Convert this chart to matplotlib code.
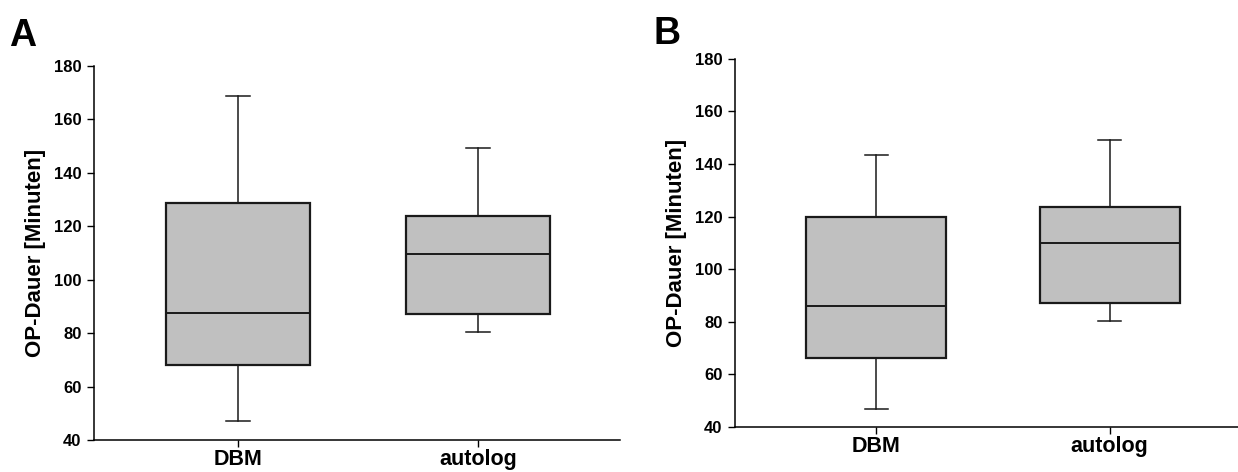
import matplotlib
matplotlib.use("Agg")
import matplotlib.pyplot as plt

plt.rcParams['font.family'] = ['Liberation Sans', 'DejaVu Sans']
plt.rcParams['font.weight'] = 'bold'

# Gruppen
groups = ["DBM", "autolog"]

# Panel A: Whisker unten, Q1, Median, Q3, Whisker oben
a_whislo = [47, 80.3]
a_q1 = [68.1, 87.1]
a_med = [87.4, 109.8]
a_q3 = [128.7, 123.7]
a_whishi = [168.8, 149.3]

# Panel B
b_whislo = [46.8, 80.3]
b_q1 = [66.1, 87.3]
b_med = [86.2, 109.9]
b_q3 = [119.9, 123.6]
b_whishi = [143.6, 149.3]

y_ticks = [40, 60, 80, 100, 120, 140, 160, 180]


def make_stats(whislo, q1, med, q3, whishi):
    stats = []
    for i in range(len(groups)):
        stats.append({
            "label": groups[i],
            "whislo": whislo[i],
            "q1": q1[i],
            "med": med[i],
            "q3": q3[i],
            "whishi": whishi[i],
            "fliers": [],
        })
    return stats


def draw_panel(ax, stats, xlim, letter, letter_xy):
    ax.bxp(stats, positions=[1, 2], widths=0.6, capwidths=0.1,
           showfliers=False, patch_artist=True,
           boxprops=dict(facecolor="#c0c0c0", edgecolor="#1a1a1a", linewidth=1.6),
           medianprops=dict(color="#1a1a1a", linewidth=1.4),
           whiskerprops=dict(color="#1a1a1a", linewidth=1.1),
           capprops=dict(color="#1a1a1a", linewidth=1.1))
    ax.set_xlim(*xlim)
    ax.set_ylim(40, 180)
    ax.set_yticks(y_ticks)
    ax.set_xticks([1, 2])
    ax.set_xticklabels(groups, fontsize=15.5, fontweight='bold')
    ax.tick_params(axis='y', labelsize=12, length=5, width=1, pad=4)
    ax.tick_params(axis='x', length=5, width=1, pad=1.5)
    for lbl in ax.get_yticklabels():
        lbl.set_fontweight('bold')
    ax.spines['top'].set_visible(False)
    ax.spines['right'].set_visible(False)
    ax.spines['left'].set_linewidth(1.1)
    ax.spines['bottom'].set_linewidth(1.1)
    ax.set_ylabel("OP-Dauer [Minuten]", fontsize=16, fontweight='bold', labelpad=6)
    fig.text(letter_xy[0], letter_xy[1], letter, fontsize=27, fontweight='bold',
             ha='left', va='top')


fig = plt.figure(figsize=(12.38, 4.72), dpi=100)
# Panel A etwas angehoben, damit die x-Beschriftung nicht abgeschnitten wird
ax_a = fig.add_axes([0.0759, 0.068, 0.4249, 0.792])
ax_b = fig.add_axes([0.5937, 0.0953, 0.4063, 0.78])

draw_panel(ax_a, make_stats(a_whislo, a_q1, a_med, a_q3, a_whishi),
           (0.4, 2.59), "A", (0.007, 0.962))
draw_panel(ax_b, make_stats(b_whislo, b_q1, b_med, b_q3, b_whishi),
           (0.395, 2.55), "B", (0.528, 0.966))

fig.savefig("out.png", dpi=100)
